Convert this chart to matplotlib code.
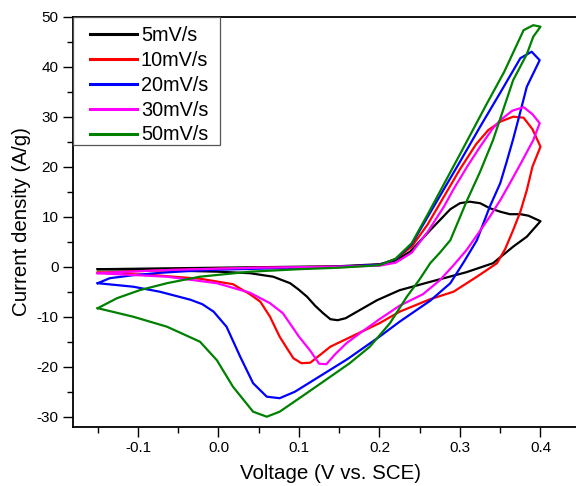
import matplotlib
matplotlib.use("Agg")
import matplotlib.pyplot as plt
from matplotlib.ticker import MultipleLocator
from matplotlib.patches import Rectangle

plt.rcParams['font.family'] = ['Liberation Sans', 'DejaVu Sans']
plt.rcParams['axes.unicode_minus'] = False

labels = ["5mV/s", "10mV/s", "20mV/s", "30mV/s", "50mV/s"]
colors = ["#000000", "#FF0000", "#0000FF", "#FF00FF", "#008000"]

# 5 mV/s
v5 = [-0.15, -0.10, -0.05, 0.0, 0.05, 0.10, 0.15, 0.20, 0.217, 0.238, 0.263, 0.288, 0.30, 0.312,
      0.325, 0.337, 0.35, 0.362, 0.375, 0.385, 0.40,
      0.383, 0.366, 0.341, 0.308, 0.259, 0.225, 0.197, 0.172, 0.158, 0.148, 0.139, 0.13, 0.12,
      0.11, 0.099, 0.089, 0.068, 0.039, 0.0, -0.05, -0.10, -0.15]
i5 = [-0.5, -0.4, -0.3, -0.2, -0.1, 0.0, 0.1, 0.5, 1.0, 3.0, 7.3, 11.5, 12.7, 13.0,
      12.7, 11.7, 11.0, 10.5, 10.5, 10.2, 9.1,
      6.0, 4.0, 0.7, -1.1, -3.2, -4.7, -6.7, -9.0, -10.3, -10.7, -10.5, -9.3, -7.8,
      -6.0, -4.5, -3.3, -2.0, -1.3, -1.0, -0.8, -0.6, -0.5]

# 10 mV/s
v10 = [-0.15, -0.10, -0.05, 0.0, 0.05, 0.10, 0.15, 0.20, 0.22, 0.24, 0.26, 0.28, 0.30, 0.32,
       0.335, 0.35, 0.366, 0.379, 0.39, 0.40,
       0.39, 0.383, 0.375, 0.366, 0.356, 0.346, 0.321, 0.292, 0.263, 0.225, 0.20, 0.17, 0.139,
       0.125, 0.114, 0.103, 0.093, 0.085, 0.076, 0.064, 0.052, 0.039, 0.018, -0.023, -0.08, -0.15]
i10 = [-1.2, -0.9, -0.6, -0.4, -0.2, -0.1, 0.0, 0.4, 1.5, 4.0, 8.5, 14.0, 19.5, 24.5,
       27.3, 29.0, 30.0, 29.8, 27.5, 24.0,
       20.0, 15.3, 11.0, 7.3, 3.5, 0.7, -2.0, -5.0, -6.5, -9.0, -11.3, -13.6, -16.0,
       -17.8, -19.2, -19.3, -18.3, -16.3, -14.0, -10.0, -7.0, -5.5, -3.5, -2.4, -1.7, -1.2]

# 20 mV/s
v20 = [-0.15, -0.135, -0.106, -0.07, -0.03, 0.0, 0.05, 0.10, 0.15, 0.20, 0.22, 0.24, 0.26, 0.28,
       0.30, 0.325, 0.35, 0.375, 0.389, 0.399,
       0.383, 0.375, 0.366, 0.358, 0.35, 0.337, 0.321, 0.305, 0.288, 0.263, 0.225, 0.20, 0.16,
       0.118, 0.095, 0.076, 0.06, 0.043, 0.027, 0.01, -0.006, -0.02, -0.035, -0.073, -0.106, -0.15]
i20 = [-3.3, -2.3, -1.7, -1.2, -0.8, -0.6, -0.4, -0.2, 0.0, 0.4, 1.5, 4.5, 10.0, 15.5,
       21.0, 28.0, 34.8, 41.7, 43.0, 41.3,
       36.0, 31.0, 25.5, 21.0, 16.7, 12.0, 5.3, 1.0, -3.3, -6.8, -11.0, -14.0, -18.5,
       -22.7, -25.0, -26.3, -26.0, -23.3, -18.0, -12.0, -9.0, -7.5, -6.6, -5.0, -4.0, -3.3]

# 30 mV/s
v30 = [-0.15, -0.10, -0.05, 0.0, 0.05, 0.10, 0.15, 0.20, 0.22, 0.24, 0.26, 0.28, 0.292, 0.31,
       0.325, 0.34, 0.35, 0.365, 0.379, 0.39, 0.399,
       0.391, 0.375, 0.362, 0.35, 0.337, 0.322, 0.308, 0.292, 0.275, 0.254, 0.225, 0.20, 0.18,
       0.159, 0.145, 0.134, 0.125, 0.114, 0.10, 0.08, 0.064, 0.039, -0.002, -0.064, -0.15]
i30 = [-1.3, -0.9, -0.6, -0.4, -0.2, -0.1, 0.0, 0.2, 0.8, 2.8, 7.0, 12.0, 15.5, 20.3,
       24.0, 27.5, 29.3, 31.2, 31.9, 30.5, 28.7,
       25.3, 20.5, 16.7, 13.3, 10.0, 6.5, 3.3, 0.3, -2.7, -5.5, -7.8, -10.5, -12.8,
       -15.3, -17.5, -19.5, -19.4, -16.8, -14.0, -9.3, -7.3, -5.2, -3.3, -2.0, -1.3]

# 50 mV/s
v50 = [-0.15, -0.126, -0.098, -0.064, -0.023, 0.039, 0.10, 0.15, 0.20, 0.22, 0.24, 0.26, 0.28,
       0.30, 0.333, 0.355, 0.379, 0.391, 0.40,
       0.391, 0.383, 0.366, 0.341, 0.325, 0.308, 0.288, 0.275, 0.263, 0.25, 0.234, 0.213, 0.188,
       0.163, 0.139, 0.105, 0.076, 0.06, 0.043, 0.018, -0.002, -0.023, -0.064, -0.106, -0.15]
i50 = [-8.3, -6.3, -4.7, -3.3, -2.0, -1.0, -0.5, -0.2, 0.3, 1.6, 4.7, 10.5, 16.5,
       22.5, 32.5, 39.0, 47.3, 48.3, 48.0,
       46.0, 42.5, 37.3, 25.3, 19.0, 13.0, 5.3, 2.8, 0.7, -2.5, -6.0, -11.3, -16.0,
       -19.3, -22.0, -25.8, -29.0, -30.0, -29.0, -24.0, -18.7, -15.0, -12.0, -10.0, -8.3]

series = [(v5, i5), (v10, i10), (v20, i20), (v30, i30), (v50, i50)]

fig = plt.figure(figsize=(5.76, 4.86), dpi=100)
ax_w_px = 588.8 - 73
ax_h_px = 410
ax = fig.add_axes([73 / 576, 59.3 / 486, ax_w_px / 576, ax_h_px / 486])

for (v, i), lab, c in zip(series, labels, colors):
    ax.plot(v, i, color=c, lw=1.6, label=lab)

ax.set_xlim(-0.1807, 0.46)
ax.set_ylim(-32, 50)
ax.xaxis.set_minor_locator(MultipleLocator(0.05))
ax.yaxis.set_major_locator(MultipleLocator(10))
ax.yaxis.set_minor_locator(MultipleLocator(5))
ax.set_xticks([-0.1, 0.0, 0.1, 0.2, 0.3, 0.4])
ax.set_xticklabels(["-0.1", "0.0", "0.1", "0.2", "0.3", "0.4"])
ax.tick_params(which='major', direction='out', length=7, width=1, labelsize=11)
ax.tick_params(which='minor', direction='out', length=4, width=1)
ax.spines['right'].set_visible(False)
for s in ['left', 'bottom', 'top']:
    ax.spines[s].set_linewidth(1.3)

ax.set_xlabel("Voltage (V vs. SCE)", fontsize=14.8, labelpad=6)
ax.set_ylabel("Current density (A/g)", fontsize=14.8, labelpad=4)

# legend frame (box in axes fraction)
frame = Rectangle((0, 1 - 128 / ax_h_px), 147 / ax_w_px, 128 / ax_h_px,
                  transform=ax.transAxes, facecolor='white', edgecolor='#555555',
                  lw=0.9, zorder=4)
ax.add_patch(frame)

leg = ax.legend(loc='upper left', bbox_to_anchor=(8 / ax_w_px, 1), borderaxespad=0,
                fontsize=14.3, frameon=False,
                handlelength=2.36, handletextpad=0.2, labelspacing=0.3,
                borderpad=0.45)
leg.set_zorder(5)
for l in leg.get_lines():
    l.set_linewidth(2.2)

fig.savefig("out.png", dpi=100)
